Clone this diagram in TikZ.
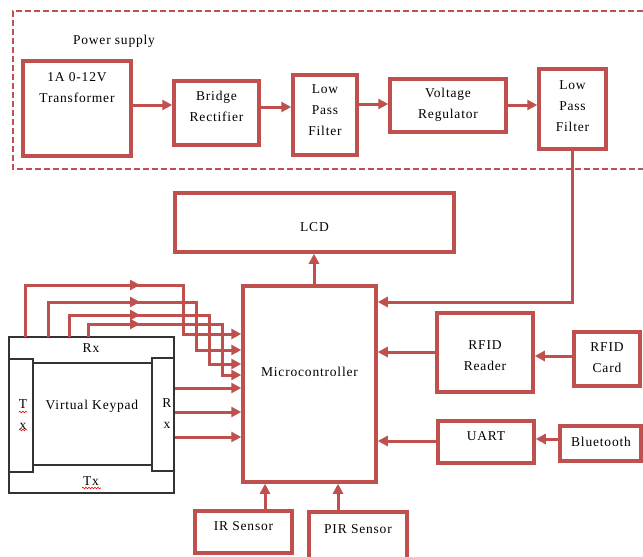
\documentclass[tikz,border=0pt]{standalone}
\usepackage{fontspec}
\setmainfont{Liberation Serif}[LetterSpace=6]
\usetikzlibrary{arrows.meta,decorations.pathmorphing}
\definecolor{rd}{RGB}{192,80,77}
\begin{document}
\begin{tikzpicture}[x=1pt,y=-1pt,
  box/.style={draw=rd,line width=3.5pt,inner sep=0pt},
  kbox/.style={draw=black!80,line width=1.3pt,inner sep=0pt,fill=white},
  txt/.style={font=\fontsize{13.5}{21}\selectfont,align=center,inner sep=0pt,text=black},
  conn/.style={draw=rd,line width=3pt},
  arr/.style={conn,-{Triangle[length=10pt,width=10pt]}},
  tip/.style={draw=rd,line width=3pt,-{Triangle[length=10pt,width=10pt]}},
  squig/.style={draw=red,line width=0.6pt,decorate,decoration={snake,amplitude=0.8pt,segment length=3pt}},
]
\useasboundingbox (0,0) rectangle (643,557);
\fill[white] (0,0) rectangle (643,557);

% power supply frame
\draw[rd,line width=1.3pt,dash pattern=on 6pt off 3pt] (643,11) -| (13,169) -- (643,169);
\node[txt] (pst) at (114,41) {Power supply};

% power supply chain
\node[box,minimum width=108,minimum height=95] (tr) at (77,108.5) {};
\node[txt] (trt) at (77,88) {1A 0-12V\\Transformer};
\node[box,minimum width=85,minimum height=64] (br) at (216.5,113) {};
\node[txt] (brt) at (216.5,106) {Bridge\\Rectifier};
\node[box,minimum width=64,minimum height=80] (lp1) at (325,115) {};
\node[txt] (lp1t) at (325,110) {Low\\Pass\\Filter};
\node[box,minimum width=116,minimum height=53] (vr) at (448,105.5) {};
\node[txt] (vrt) at (448,105) {Voltage\\Regulator};
\node[box,minimum width=67,minimum height=80] (lp2) at (572.5,109) {};
\node[txt] (lp2t) at (572.5,106) {Low\\Pass\\Filter};

% main blocks
\node[box,minimum width=279,minimum height=59] (lcd) at (314.5,222.5) {};
\node[txt] (lcdt) at (314.5,227) {LCD};
\node[box,minimum width=133,minimum height=196] (mc) at (309.5,384) {};
\node[txt] (mct) at (309.5,372) {Microcontroller};
\node[box,minimum width=96,minimum height=79] (rr) at (485,352.5) {};
\node[txt] (rrt) at (485,356) {RFID\\Reader};
\node[box,minimum width=66,minimum height=54] (rc) at (607,359) {};
\node[txt] (rct) at (607,358) {RFID\\Card};
\node[box,minimum width=96,minimum height=42] (ua) at (486,442) {};
\node[txt] (uat) at (486,436) {UART};
\node[box,minimum width=81,minimum height=35] (bt) at (600.5,443.5) {};
\node[txt] (btt) at (601,442) {Bluetooth};
\node[box,minimum width=97,minimum height=42] (ir) at (243.5,532) {};
\node[txt] (irt) at (243.5,526) {IR Sensor};
\node[box,minimum width=98,minimum height=48] (pir) at (358,536) {};
\node[txt] (pirt) at (358,529) {PIR Sensor};

% virtual keypad
\node[kbox,minimum width=165,minimum height=156] (kpo) at (91.5,415) {};
\node[kbox,minimum width=24,minimum height=113] (kpl) at (21,415.5) {};
\node[kbox,minimum width=22,minimum height=113] (kpr) at (163,414.5) {};
\node[kbox,minimum width=119,minimum height=102] (kpc) at (92.5,414) {};
\node[txt] (kprx) at (91,348) {Rx};
\node[txt] (kptx) at (91,481) {Tx};
\node[txt] (kpltx) at (23,415) {T\\x};
\node[txt] (kprrx) at (167,414) {R\\x};
\node[txt] (kpt) at (92,406) {Virtual Keypad};
\draw[squig] (82,488) -- (101,488);
\draw[squig] (19,412) -- (27,412);
\draw[squig] (19,430) -- (27,430);

% power chain arrows
\draw[arr] (tr.east |- 0,105) -- (br.west |- 0,105);
\draw[arr] (br.east |- 0,107) -- (lp1.west |- 0,107);
\draw[arr] (lp1.east |- 0,104) -- (vr.west |- 0,104);
\draw[arr] (vr.east |- 0,105) -- (lp2.west |- 0,105);
\draw[arr] (lp2.south) |- (mc.east |- 0,302);

% other arrows
\draw[arr] (mc.north -| 314,0) -- (lcd.south -| 314,0);
\draw[arr] (rr.west |- 0,352) -- (mc.east |- 0,352);
\draw[arr] (rc.west |- 0,356) -- (rr.east |- 0,356);
\draw[arr] (ua.west |- 0,441) -- (mc.east |- 0,441);
\draw[arr] (bt.west |- 0,439) -- (ua.east |- 0,439);
\draw[arr] (ir.north -| 265,0) -- (mc.south -| 265,0);
\draw[arr] (pir.north -| 338,0) -- (mc.south -| 338,0);

% keypad right side to microcontroller
\draw[arr] (kpr.east |- 0,388) -- (mc.west |- 0,388);
\draw[arr] (kpr.east |- 0,412) -- (mc.west |- 0,412);
\draw[arr] (kpr.east |- 0,437) -- (mc.west |- 0,437);

% keypad top wires to microcontroller
\coordinate (w1) at (25,337);
\coordinate (w2) at (48,337);
\coordinate (w3) at (69,337);
\coordinate (w4) at (88,337);
\draw[arr] (w1) -- (25,285) -- (183,285) -- (183,334) -- (mc.west |- 0,334);
\draw[arr] (w2) -- (48,302) -- (196,302) -- (196,350) -- (mc.west |- 0,350);
\draw[arr] (w3) -- (69,315) -- (209,315) -- (209,364) -- (mc.west |- 0,364);
\draw[arr] (w4) -- (88,324) -- (222,324) -- (222,375) -- (mc.west |- 0,375);
\draw[tip] (128,285) -- (140,285);
\draw[tip] (128,302) -- (140,302);
\draw[tip] (128,315) -- (140,315);
\draw[tip] (128,324) -- (140,324);
\end{tikzpicture}
\end{document}
